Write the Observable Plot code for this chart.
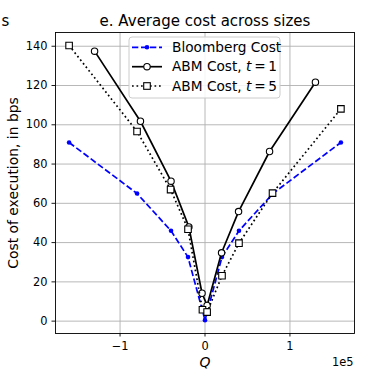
<!DOCTYPE html>
<html>
<head>
<meta charset="utf-8">
<script src="https://cdn.jsdelivr.net/npm/d3@7"></script>
<script src="https://cdn.jsdelivr.net/npm/@observablehq/plot@0.6"></script>
<style>
  html, body { margin: 0; padding: 0; background: white; }
</style>
</head>
<body>
<div id="chart"></div>
<script>
// Data
const qBloomberg = [-160000, -80000, -40000, -20000, 0, 20000, 40000, 80000, 160000];
const costBloomberg = [91, 65, 46, 32.6, 0.5, 32.6, 46, 65, 91];

const qAbm1 = [-130000, -76000, -40000, -19000, -3500, 2500, 19500, 39500, 76000, 130000];
const costAbm1 = [137.5, 101.8, 71.3, 48, 14.2, 8, 34.8, 55.8, 86.4, 121.7];

const qAbm5 = [-160000, -80000, -40500, -20000, -3000, 2500, 20000, 40000, 79500, 160000];
const costAbm5 = [140.4, 96.6, 67, 46.8, 5.8, 4.6, 23.1, 39.7, 65.2, 108.1];

const xTicks = [-100000, 0, 100000];
const yTicks = [0, 20, 40, 60, 80, 100, 120, 140];

const titleText = "e. Average cost across sizes";
const prevTitleTail = "s";
const yLabel = "Cost of execution, in bps";
const xLabel = "Q";
const xOffsetText = "1e5";
const legendLabels = ["Bloomberg Cost", "ABM Cost, ", "ABM Cost, "];
const legendMath = [null, "1", "5"];

const toRows = (xs, ys) => xs.map((x, i) => ({ x, y: ys[i] }));
const bloom = toRows(qBloomberg, costBloomberg);
const abm1 = toRows(qAbm1, costAbm1);
const abm5 = toRows(qAbm5, costAbm5);

const FONT = "DejaVu Sans";
const fmtX = d => d === 0 ? "0" : (d < 0 ? "\u2212" : "") + Math.abs(d / 1e5);

const chart = Plot.plot({
  width: 390,
  height: 388,
  marginLeft: 55,
  marginRight: 36,
  marginTop: 32,
  marginBottom: 55,
  x: { domain: [-176000, 176000] },
  y: { domain: [-6.3, 147] },
  style: { fontFamily: FONT, fontSize: "11.4px", color: "black", background: "white", overflow: "visible" },
  marks: [
    Plot.gridX(xTicks, { stroke: "#b0b0b0", strokeOpacity: 1, strokeWidth: 0.9 }),
    Plot.gridY(yTicks, { stroke: "#b0b0b0", strokeOpacity: 1, strokeWidth: 0.9 }),
    Plot.line(bloom, { x: "x", y: "y", stroke: "#0000ff", strokeWidth: 1.7, strokeDasharray: "6.3,2.7", strokeLinecap: "butt" }),
    Plot.dot(bloom, { x: "x", y: "y", r: 2.3, fill: "#0000ff", stroke: "none" }),
    Plot.line(abm1, { x: "x", y: "y", stroke: "black", strokeWidth: 1.7 }),
    Plot.dot(abm1, { x: "x", y: "y", r: 3.2, fill: "white", stroke: "black", strokeWidth: 1.1 }),
    Plot.line(abm5, { x: "x", y: "y", stroke: "black", strokeWidth: 1.7, strokeDasharray: "1.7,2.8", strokeLinecap: "butt" }),
    Plot.dot(abm5, { x: "x", y: "y", symbol: "square", r: 3.7, fill: "white", stroke: "black", strokeWidth: 1.1 }),
    Plot.frame({ stroke: "black", strokeWidth: 0.9 }),
    Plot.axisX(xTicks, { tickSize: 3.5, tickPadding: 5.2, tickFormat: fmtX, label: null, strokeWidth: 0.9 }),
    Plot.axisY(yTicks, { tickSize: 3.5, tickPadding: 4.5, tickFormat: d => String(d), label: null, strokeWidth: 0.9 }),
    Plot.text([titleText], { text: d => d, frameAnchor: "top", dy: -11.8, fontSize: 15, lineAnchor: "middle" }),
    Plot.text([prevTitleTail], { text: d => d, frameAnchor: "top-left", dx: -50, dy: -11.8, fontSize: 15, lineAnchor: "middle", textAnchor: "middle" }),
    Plot.text([yLabel], { text: d => d, frameAnchor: "left", dx: -42, rotate: -90, fontSize: 13.9, lineAnchor: "middle", textAnchor: "middle" }),
    Plot.text([xLabel], { text: d => d, frameAnchor: "bottom", dy: 29, fontSize: 13.9, fontStyle: "italic", lineAnchor: "middle", textAnchor: "middle" }),
    Plot.text([xOffsetText], { text: d => d, frameAnchor: "bottom-right", dx: -1, dy: 29, fontSize: 11.4, lineAnchor: "middle", textAnchor: "end" })
  ]
});

// Legend drawn on top of the plot
const svg = d3.select(chart);
const lg = svg.append("g").attr("font-family", FONT).attr("font-size", "13.7px").attr("text-anchor", "start");
lg.append("rect")
  .attr("x", 129).attr("y", 37).attr("width", 151).attr("height", 61)
  .attr("rx", 3).attr("ry", 3)
  .style("fill", "white").style("fill-opacity", 0.85)
  .style("stroke", "#cccccc").style("stroke-width", 1);
const rowsY = [47.3, 66.7, 86];
const styles = [
  { stroke: "#0000ff", dash: "6.3,2.7", marker: "dot" },
  { stroke: "black", dash: null, marker: "circle" },
  { stroke: "black", dash: "1.7,2.8", marker: "square" }
];
rowsY.forEach((yy, i) => {
  const s = styles[i];
  const ln = lg.append("line").attr("x1", 132).attr("x2", 162).attr("y1", yy).attr("y2", yy)
    .style("stroke", s.stroke).style("stroke-width", 1.7);
  if (s.dash) ln.style("stroke-dasharray", s.dash);
  if (s.marker === "dot") lg.append("circle").attr("cx", 147).attr("cy", yy).attr("r", 2.3).style("fill", "#0000ff");
  if (s.marker === "circle") lg.append("circle").attr("cx", 147).attr("cy", yy).attr("r", 3.2).style("fill", "white").style("stroke", "black").style("stroke-width", 1.1);
  if (s.marker === "square") lg.append("rect").attr("x", 147 - 3.3).attr("y", yy - 3.3).attr("width", 6.6).attr("height", 6.6).style("fill", "white").style("stroke", "black").style("stroke-width", 1.1);
  const t = lg.append("text").attr("x", 172).attr("y", yy).attr("dy", "0.35em").style("fill", "black").attr("text-anchor", "start");
  t.append("tspan").text(legendLabels[i]);
  if (legendMath[i]) {
    t.append("tspan").attr("font-style", "italic").text("t");
    t.append("tspan").text("\u2009=\u2009" + legendMath[i]);
  }
});

document.getElementById("chart").appendChild(chart);
</script>
</body>
</html>
